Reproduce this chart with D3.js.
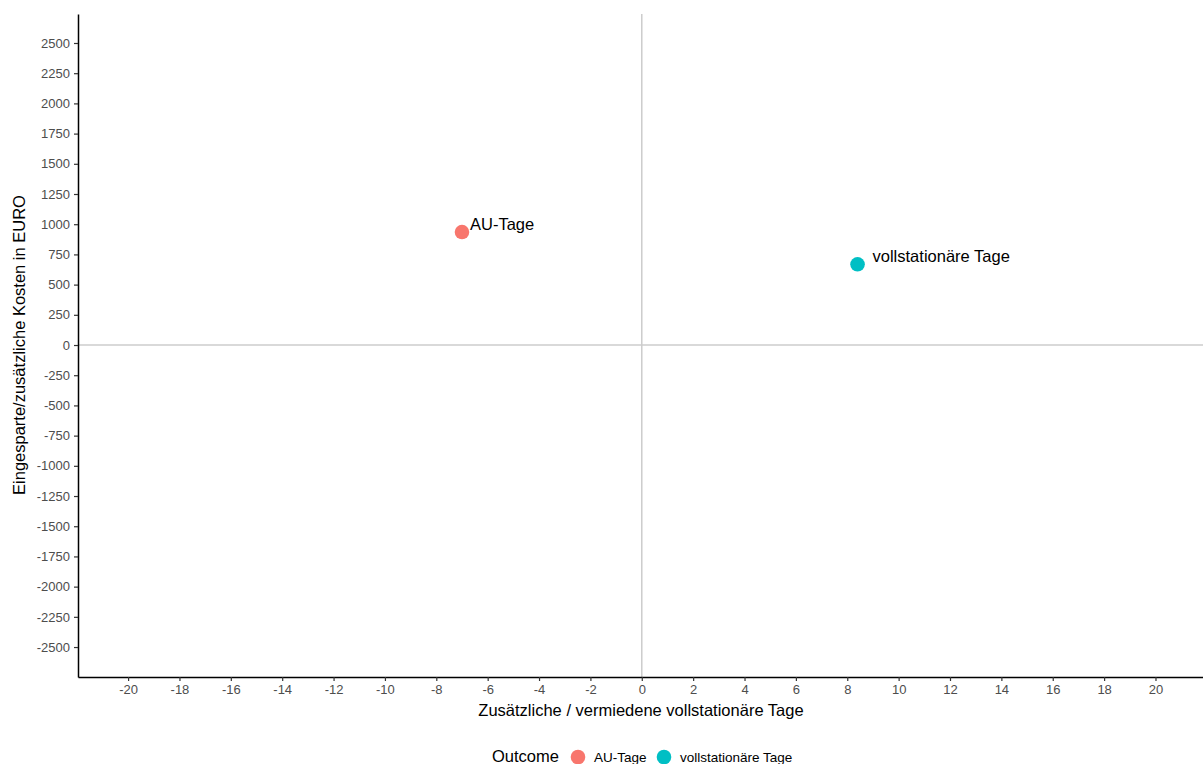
<!DOCTYPE html>
<html>
<head>
<meta charset="utf-8">
<script src="https://cdn.jsdelivr.net/npm/d3@7"></script>
<style>
  body { margin: 0; background: #fff; }
  svg { display: block; font-family: Arial, "Liberation Sans", sans-serif; }
</style>
</head>
<body>
<svg id="chart" width="1203" height="764"></svg>
<script>
// Outcomes: additional/avoided days (x) vs. saved/additional cost in EUR (y)
const outcomes = ["AU-Tage", "vollstationäre Tage"];
const days = [-7.0, 8.4];
const costs = [935, 668];
const colors = ["#F8766D", "#00BFC4"];
const xTicks = d3.range(-20, 21, 2);
const yTicks = d3.range(-2500, 2501, 250);

const svg = d3.select("#chart");
const plotLeft = 78, plotRight = 1203, plotTop = 14, plotBottom = 677;

const x = d3.scaleLinear().domain([-21.95, 21.85]).range([plotLeft, plotRight]);
const y = d3.scaleLinear().domain([-2748, 2740]).range([plotBottom, plotTop]);

// zero reference lines
svg.append("line")
  .attr("x1", plotLeft).attr("x2", plotRight).attr("y1", y(0)).attr("y2", y(0))
  .attr("stroke", "#cccccc").attr("stroke-width", 1.5);
svg.append("line")
  .attr("x1", x(0)).attr("x2", x(0)).attr("y1", plotTop).attr("y2", plotBottom)
  .attr("stroke", "#cccccc").attr("stroke-width", 1.5);

// axes
const xAxis = svg.append("g")
  .attr("transform", `translate(0,${plotBottom})`)
  .call(d3.axisBottom(x).tickValues(xTicks).tickSizeInner(4).tickSizeOuter(0).tickPadding(4)
    .tickFormat(d => String(d)));
const yAxis = svg.append("g")
  .attr("transform", `translate(${plotLeft},0)`)
  .call(d3.axisLeft(y).tickValues(yTicks).tickSizeInner(4).tickSizeOuter(0).tickPadding(4)
    .tickFormat(d => String(d)));

[xAxis, yAxis].forEach(g => {
  g.select(".domain").attr("stroke", "#000").attr("stroke-width", 1.5);
  g.selectAll(".tick line").attr("stroke", "#333").attr("stroke-width", 1.2);
  g.selectAll(".tick text").attr("fill", "#4d4d4d").style("font-size", "13px")
    .style("font-family", "Arial, 'Liberation Sans', sans-serif");
});

// axis titles
svg.append("text")
  .attr("x", 641).attr("y", 716)
  .attr("text-anchor", "middle").attr("fill", "#000")
  .style("font-size", "16.5px")
  .text("Zusätzliche / vermiedene vollstationäre Tage");
svg.append("text")
  .attr("transform", `translate(25,345) rotate(-90)`)
  .attr("text-anchor", "middle").attr("fill", "#000")
  .style("font-size", "16.5px")
  .text("Eingesparte/zusätzliche Kosten in EURO");

// points
const data = outcomes.map((o, i) => ({ name: o, x: days[i], y: costs[i], c: colors[i] }));
svg.append("g").selectAll("circle").data(data).join("circle")
  .attr("cx", d => x(d.x)).attr("cy", d => y(d.y)).attr("r", 7.3)
  .attr("fill", d => d.c);

// point labels (repelled offsets)
const labelOffsets = [[8, -6], [15, -7]];
svg.append("g").selectAll("text").data(data).join("text")
  .attr("x", (d, i) => x(d.x) + labelOffsets[i][0])
  .attr("y", (d, i) => y(d.y) + labelOffsets[i][1])
  .attr("dominant-baseline", "middle")
  .attr("fill", "#000").style("font-size", "16.5px")
  .text(d => d.name);

// legend
const legend = svg.append("g");
legend.append("text").attr("x", 492).attr("y", 758).attr("dominant-baseline", "middle")
  .style("font-size", "16.5px").attr("fill", "#000").text("Outcome");
const legendX = [578, 664];
data.forEach((d, i) => {
  legend.append("circle").attr("cx", legendX[i]).attr("cy", 757).attr("r", 7.3).attr("fill", d.c);
  legend.append("text").attr("x", legendX[i] + 16).attr("y", 758).attr("dominant-baseline", "middle")
    .style("font-size", "13.5px").attr("fill", "#000").text(d.name);
});
</script>
</body>
</html>
